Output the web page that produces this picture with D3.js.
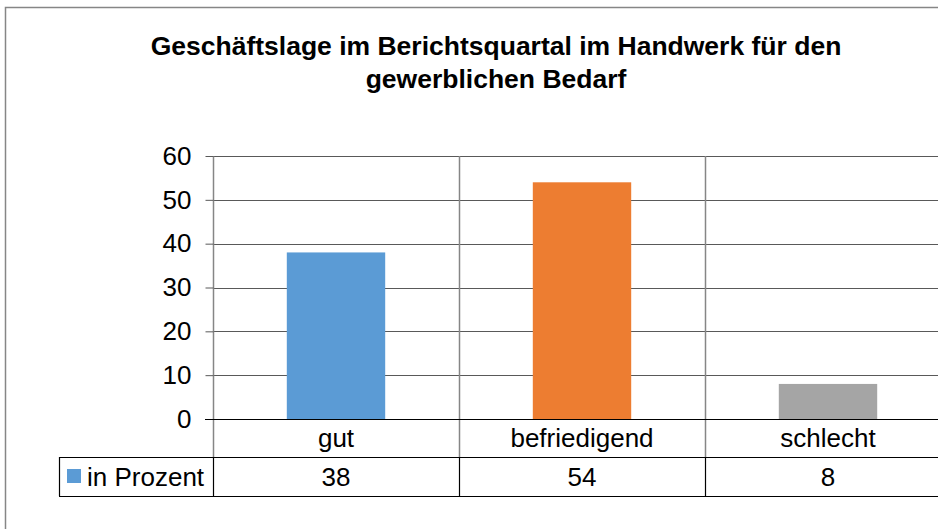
<!DOCTYPE html>
<html>
<head>
<meta charset="utf-8">
<script src="https://cdn.jsdelivr.net/npm/d3@7"></script>
<style>
	body { margin: 0; background: #fff; }
	text { font-family: "Liberation Sans", Arial, sans-serif; fill: #000; }
</style>
</head>
<body>
<svg class="chart" width="938" height="529"></svg>
<script>
// data
const categories = ["gut", "befriedigend", "schlecht"]
const values = [38, 54, 8]
const barColors = ["#5B9BD5", "#ED7D31", "#A5A5A5"]
const seriesName = "in Prozent"
const yTicks = [0, 10, 20, 30, 40, 50, 60]
const titleLines = ["Geschäftslage im Berichtsquartal im Handwerk für den", "gewerblichen Bedarf"]

const svg = d3.select("svg.chart")

const plotLeft = 213, plotTop = 156, plotBottom = 419, bandW = 246
const row1 = 457, row2 = 496, tableLeft = 59
const fontSize = "26px"

// outer frame (runs off the right and bottom of the picture)
svg.append("rect")
	.attr("x", 5.5).attr("y", 7.5)
	.attr("width", 984).attr("height", 540)
	.attr("fill", "none").attr("stroke", "#868686").attr("stroke-width", 1.5)

// title
svg.append("text")
	.attr("x", 496).attr("y", 55)
	.attr("text-anchor", "middle")
	.style("font-size", "26.5px").style("font-weight", "bold")
	.selectAll("tspan")
	.data(titleLines)
	.enter()
	.append("tspan")
	.attr("x", 496)
	.attr("dy", (d, i) => i === 0 ? 0 : 33)
	.text(d => d)

// scales
const x = d3.scaleBand()
	.domain(categories)
	.range([plotLeft, plotLeft + categories.length * bandW])

const y = d3.scaleLinear()
	.domain([0, 60])
	.range([plotBottom, plotTop])

// horizontal gridlines
svg.append("g")
	.selectAll("line")
	.data(yTicks.filter(d => d > 0))
	.enter()
	.append("line")
	.attr("x1", plotLeft).attr("x2", 938)
	.attr("y1", d => Math.round(y(d)) + 0.5).attr("y2", d => Math.round(y(d)) + 0.5)
	.attr("stroke", "#595959").attr("stroke-width", 1)

// vertical category separators in plot area
svg.append("g")
	.selectAll("line")
	.data(categories.slice(1))
	.enter()
	.append("line")
	.attr("x1", d => x(d) + 0.5).attr("x2", d => x(d) + 0.5)
	.attr("y1", plotTop).attr("y2", row1)
	.attr("stroke", "#868686").attr("stroke-width", 1.5)

// bars
svg.append("g")
	.selectAll("rect")
	.data(values)
	.enter()
	.append("rect")
	.attr("x", (d, i) => x(categories[i]) + x.bandwidth() * 0.3)
	.attr("width", x.bandwidth() * 0.4)
	.attr("y", d => y(d))
	.attr("height", d => y(0) - y(d))
	.attr("fill", (d, i) => barColors[i])

// y axis
const yAxis = d3.axisLeft(y)
	.tickValues(yTicks)
	.tickSize(8)
	.tickPadding(14)
	.tickFormat(d3.format("d"))

const yG = svg.append("g")
	.attr("transform", "translate(" + (plotLeft + 0.5) + ",0)")
	.call(yAxis)
yG.select(".domain").attr("stroke", "#868686").attr("stroke-width", 1.5)
	.attr("d", "M0," + plotTop + "V" + row1)
yG.selectAll(".tick line").attr("stroke", "#595959")
yG.selectAll(".tick text")
	.style("font-size", fontSize)
	.style("font-family", "'Liberation Sans', Arial, sans-serif")
	.attr("fill", "#000")

// x axis line at zero
svg.append("line")
	.attr("x1", plotLeft - 8).attr("x2", 938)
	.attr("y1", Math.round(y(0)) + 0.5).attr("y2", Math.round(y(0)) + 0.5)
	.attr("stroke", "#000").attr("stroke-width", 1.2)

// category labels
svg.append("g")
	.selectAll("text")
	.data(categories)
	.enter()
	.append("text")
	.attr("x", d => x(d) + x.bandwidth() / 2)
	.attr("y", 447)
	.attr("text-anchor", "middle")
	.style("font-size", fontSize)
	.text(d => d)

// data table
const table = svg.append("g")
table.append("line")
	.attr("x1", tableLeft).attr("x2", 938)
	.attr("y1", row1 + 0.5).attr("y2", row1 + 0.5)
	.attr("stroke", "#000").attr("stroke-width", 1.2)
table.append("line")
	.attr("x1", tableLeft).attr("x2", 938)
	.attr("y1", row2 + 0.5).attr("y2", row2 + 0.5)
	.attr("stroke", "#000").attr("stroke-width", 1.2)
table.append("line")
	.attr("x1", tableLeft + 0.5).attr("x2", tableLeft + 0.5)
	.attr("y1", row1).attr("y2", row2)
	.attr("stroke", "#000").attr("stroke-width", 1.2)
table.selectAll("line.sep")
	.data(categories)
	.enter()
	.append("line")
	.attr("class", "sep")
	.attr("x1", d => x(d) + 0.5).attr("x2", d => x(d) + 0.5)
	.attr("y1", row1).attr("y2", row2)
	.attr("stroke", "#000").attr("stroke-width", 1.2)

// legend key in table
table.append("rect")
	.attr("x", 67).attr("y", 469)
	.attr("width", 14).attr("height", 14)
	.attr("fill", barColors[0])
table.append("text")
	.attr("x", 87).attr("y", 486)
	.style("font-size", fontSize)
	.text(seriesName)

table.selectAll("text.val")
	.data(values)
	.enter()
	.append("text")
	.attr("class", "val")
	.attr("x", (d, i) => x(categories[i]) + x.bandwidth() / 2)
	.attr("y", 486)
	.attr("text-anchor", "middle")
	.style("font-size", fontSize)
	.text(d => d)
</script>
</body>
</html>
